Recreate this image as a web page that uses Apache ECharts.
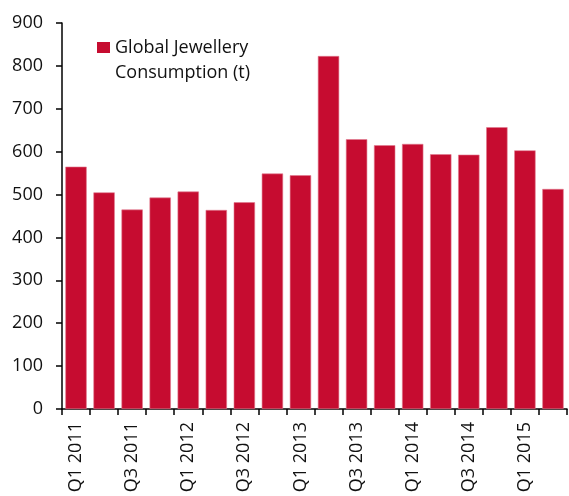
<!DOCTYPE html>
<html>
<head>
<meta charset="utf-8">
<script src="https://cdn.jsdelivr.net/npm/echarts@6/dist/echarts.min.js"></script>
<style>
  html, body { margin: 0; padding: 0; background: #fff; }
  #chart { width: 569px; height: 496px; }
</style>
</head>
<body>
<div id="chart"></div>
<script>
// Quarterly global jewellery gold consumption, tonnes
const quarters = [
  'Q1 2011', 'Q2 2011', 'Q3 2011', 'Q4 2011',
  'Q1 2012', 'Q2 2012', 'Q3 2012', 'Q4 2012',
  'Q1 2013', 'Q2 2013', 'Q3 2013', 'Q4 2013',
  'Q1 2014', 'Q2 2014', 'Q3 2014', 'Q4 2014',
  'Q1 2015', 'Q2 2015'
];
const consumption = [
  565, 505, 465, 493,
  507, 464, 482, 549,
  545, 823, 629, 615,
  618, 594, 593, 657,
  603, 513
];
const seriesName = 'Global Jewellery Consumption (t)';
const yTicks = { min: 0, max: 900, step: 100 };

const FONT = '"Open Sans", "Noto Sans", sans-serif';
const BAR = '#C60C30';
const INK = '#111';

const chart = echarts.init(document.getElementById('chart'), null, { renderer: 'canvas' });

chart.setOption({
  animation: false,
  textStyle: { fontFamily: FONT },
  grid: { left: 62, right: 2, top: 23, bottom: 87, containLabel: false },
  legend: {
    show: true,
    left: 97,
    top: 10,
    padding: 0,
    orient: 'vertical',
    icon: 'rect',
    itemWidth: 13,
    itemHeight: 11,
    itemStyle: { borderWidth: 0 },
    data: [seriesName],
    // leading blank line keeps the first text line level with the swatch
    formatter: () => '\nGlobal Jewellery\nConsumption (t)',
    textStyle: {
      fontFamily: FONT,
      fontSize: 18,
      color: INK,
      lineHeight: 25
    }
  },
  xAxis: {
    type: 'category',
    data: quarters,
    axisLine: { show: true, lineStyle: { color: '#000', width: 1.5 } },
    axisTick: { show: true, interval: 0, length: 6, lineStyle: { color: '#000', width: 1.5 } },
    axisLabel: {
      interval: 1,
      rotate: 90,
      margin: 13,
      fontFamily: FONT,
      fontSize: 18,
      color: INK
    },
    splitLine: { show: false }
  },
  yAxis: {
    type: 'value',
    min: yTicks.min,
    max: yTicks.max,
    interval: yTicks.step,
    axisLine: { show: true, lineStyle: { color: '#000', width: 1.5 } },
    axisTick: { show: true, length: 6, lineStyle: { color: '#000', width: 1.5 } },
    axisLabel: {
      margin: 19,
      fontFamily: FONT,
      fontSize: 18,
      color: INK
    },
    splitLine: { show: false }
  },
  series: [{
    name: seriesName,
    type: 'bar',
    data: consumption,
    barCategoryGap: '24%',
    itemStyle: { color: BAR, borderColor: '#e07a8e', borderWidth: 0.6 }
  }]
});
</script>
</body>
</html>
